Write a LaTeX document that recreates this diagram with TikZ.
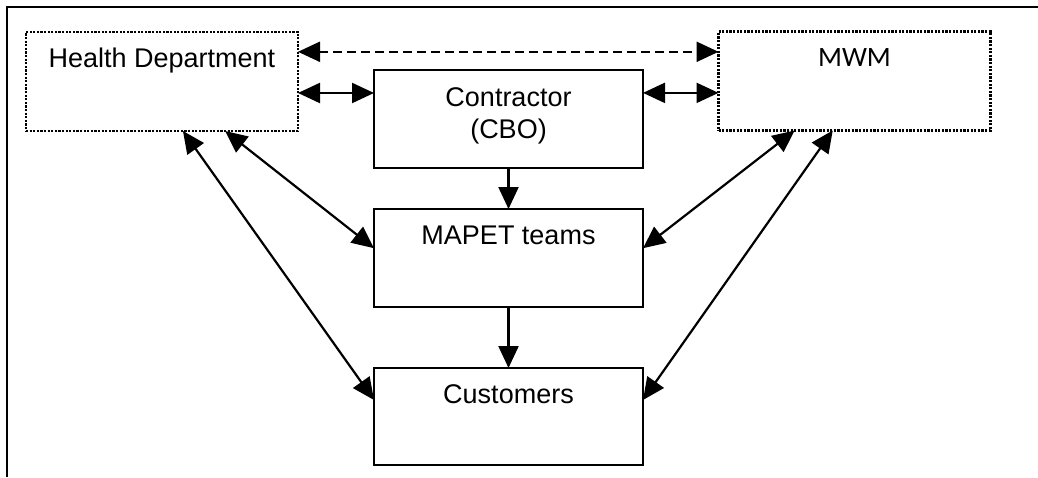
\documentclass[tikz,border=0pt]{standalone}
\usepackage{fontspec}
\setmainfont{Liberation Sans}
\newfontfamily\mwmfont{Carlito}
\usetikzlibrary{arrows.meta,calc}
\begin{document}
\begin{tikzpicture}[x=1pt,y=-1pt,
  every node/.style={inner sep=0pt, outer sep=0pt},
  txt/.style={font=\fontsize{27}{32}\selectfont, align=center},
  solidbox/.style={draw, line width=2.4pt, fill=white, minimum width=269pt, minimum height=98pt,
     text height=35pt, text depth=63pt, txt},
  dotbox/.style={draw, line width=2.2pt, dash pattern=on 2.2pt off 1.4pt, fill=white,
     minimum width=272pt, minimum height=99pt, text height=35pt, text depth=64pt, txt},
  link/.style={line width=2.2pt, {Triangle[length=22pt,width=20pt]}-{Triangle[length=22pt,width=20pt]}},
  oneway/.style={line width=2.2pt, -{Triangle[length=22pt,width=20pt]}},
  dashlink/.style={link, dash pattern=on 9pt off 5pt}]
\useasboundingbox (0,0) rectangle (1038,477);
\fill[white] (0,0) rectangle (1038,477);
\draw[line width=2.2pt] (7,477) -- (7,7) -- (1038,7);

\node[dotbox] (hd) at (162,81.5) {Health Department};
\node[dotbox, font=\mwmfont\fontsize{28}{32}\selectfont] (mwm) at (854.5,81) {MWM};
\node[solidbox, text height=68pt, text depth=30pt] (cbo) at (508.5,119) {Contractor\\(CBO)};
\node[solidbox] (mapet) at (508.5,258) {MAPET teams};
\node[solidbox, minimum height=97pt, text depth=62pt] (cust) at (508.5,416.5) {Customers};

% horizontal links
\coordinate (hdD) at ($(hd.north east)!0.2!(hd.south east)$);
\draw[dashlink] (hdD) -- (hdD -| mwm.west);
\coordinate (hdS) at ($(hd.north east)!0.616!(hd.south east)$);
\draw[link] (hdS) -- (hdS -| cbo.west);
\coordinate (mwS) at ($(mwm.north west)!0.62!(mwm.south west)$);
\draw[link] (mwS -| cbo.east) -- (mwS);

% vertical flow
\draw[oneway] (cbo.south) -- (mapet.north);
\draw[oneway] (mapet.south) -- (cust.north);

% diagonal links
\coordinate (hd1) at ($(hd.south west)!0.577!(hd.south east)$);
\coordinate (hd2) at ($(hd.south west)!0.732!(hd.south east)$);
\coordinate (mw1) at ($(mwm.south west)!0.28!(mwm.south east)$);
\coordinate (mw2) at ($(mwm.south west)!0.42!(mwm.south east)$);
\coordinate (mpL) at ($(mapet.north west)!0.4!(mapet.south west)$);
\coordinate (mpR) at ($(mapet.north east)!0.4!(mapet.south east)$);
\coordinate (cuL) at ($(cust.north west)!0.33!(cust.south west)$);
\coordinate (cuR) at ($(cust.north east)!0.33!(cust.south east)$);
\draw[link] (hd1) -- (cuL);
\draw[link] (hd2) -- (mpL);
\draw[link] (mw1) -- (mpR);
\draw[link] (mw2) -- (cuR);
\end{tikzpicture}
\end{document}
